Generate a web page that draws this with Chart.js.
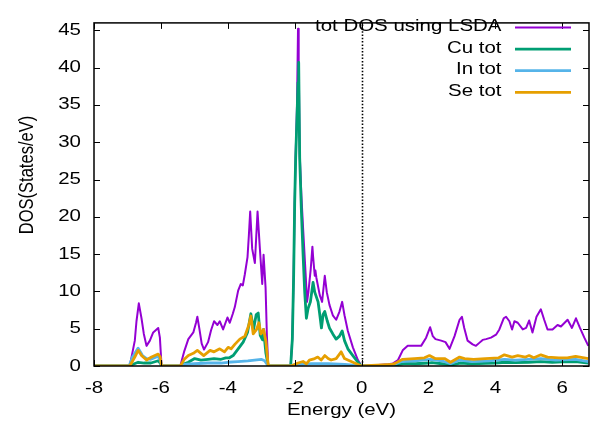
<!DOCTYPE html>
<html><head><meta charset="utf-8">
<script src="https://cdn.jsdelivr.net/npm/chart.js@4/dist/chart.umd.min.js"></script>
<style>html,body{margin:0;padding:0;background:#fff;overflow:hidden}</style>
</head><body>
<canvas id="c" width="594" height="432"></canvas>
<script>
// ---- data ----
const xTicks = [-8, -6, -4, -2, 0, 2, 4, 6];
const yTicks = [0, 5, 10, 15, 20, 25, 30, 35, 40, 45];
const seriesLabels = ['tot DOS using LSDA', 'Cu tot', 'In tot', 'Se tot'];
const xTitle = 'Energy (eV)';
const yTitle = 'DOS(States/eV)';

const totE = [-8, -6.93, -6.78, -6.73, -6.66, -6.58, -6.51, -6.43, -6.33, -6.23, -6.08, -6.03, -5.98, -5.42, -5.3, -5.18, -5.03, -4.95, -4.91, -4.85, -4.78, -4.71, -4.59, -4.5, -4.41, -4.31, -4.24, -4.14, -4.01, -3.94, -3.85, -3.79, -3.69, -3.61, -3.55, -3.49, -3.41, -3.37, -3.33, -3.27, -3.19, -3.11, -3.04, -2.97, -2.93, -2.87, -2.83, -2.79, -2.12, -2.07, -2.03, -2.0, -1.97, -1.93, -1.9, -1.88, -1.85, -1.8, -1.75, -1.67, -1.63, -1.59, -1.52, -1.47, -1.45, -1.4, -1.38, -1.35, -1.25, -1.18, -1.1, -1.04, -0.96, -0.86, -0.76, -0.66, -0.58, -0.51, -0.41, -0.26, -0.11, 0, 0.3, 0.5, 0.8, 0.94, 1.09, 1.23, 1.38, 1.58, 1.78, 1.93, 2.05, 2.13, 2.21, 2.38, 2.51, 2.63, 2.78, 2.93, 3.0, 3.07, 3.17, 3.32, 3.42, 3.52, 3.62, 3.72, 3.87, 4.02, 4.12, 4.25, 4.32, 4.42, 4.5, 4.57, 4.67, 4.82, 4.92, 5.01, 5.11, 5.23, 5.36, 5.46, 5.56, 5.71, 5.86, 5.96, 6.16, 6.29, 6.41, 6.53, 6.66, 6.78];
const totV = [0, 0, 3.4, 6.0, 8.4, 6.4, 4.3, 2.7, 3.4, 4.5, 5.1, 3.8, 0, 0, 2.0, 3.6, 4.5, 5.8, 6.6, 5.0, 3.0, 2.2, 3.2, 4.8, 6.0, 5.5, 6.0, 4.9, 6.5, 5.8, 7.0, 7.9, 10.1, 11.0, 10.8, 12.3, 14.6, 17.5, 20.7, 15.7, 13.8, 20.7, 15.7, 11.0, 14.9, 10.5, 4.0, 0, 0, 3.8, 12.5, 22.0, 28.5, 35.0, 45.2, 41.0, 28.5, 22.9, 18.6, 12.1, 8.6, 9.9, 13.0, 16.0, 14.7, 12.1, 12.8, 11.8, 9.5, 8.6, 12.1, 9.9, 8.2, 6.8, 6.2, 7.3, 8.6, 6.8, 4.7, 2.5, 0.8, 0, 0.05, 0.15, 0.25, 0.35, 0.8, 2.1, 2.7, 2.7, 2.7, 3.8, 5.2, 4.0, 3.6, 3.4, 3.2, 2.3, 4.0, 6.2, 6.6, 5.1, 3.4, 2.9, 2.7, 3.1, 3.5, 3.6, 3.8, 4.2, 4.9, 6.4, 6.6, 6.0, 4.9, 6.0, 5.8, 4.9, 5.1, 6.1, 4.5, 6.6, 7.6, 6.2, 4.9, 4.9, 5.5, 5.3, 6.2, 5.1, 6.4, 5.1, 3.8, 2.7];

const cuE = [-8, -6.95, -6.85, -6.68, -6.5, -6.3, -6.08, -6.02, -5.98, -5.42, -5.3, -5.18, -4.99, -4.8, -4.59, -4.41, -4.2, -4.06, -3.95, -3.84, -3.69, -3.54, -3.41, -3.31, -3.23, -3.15, -3.09, -3.03, -2.96, -2.93, -2.86, -2.79, -2.12, -2.07, -2.03, -2.0, -1.97, -1.93, -1.9, -1.88, -1.85, -1.8, -1.75, -1.7, -1.65, -1.6, -1.53, -1.45, -1.4, -1.3, -1.25, -1.2, -1.15, -1.1, -1.03, -0.96, -0.86, -0.76, -0.66, -0.58, -0.51, -0.41, -0.26, -0.11, 0, 0.9, 1.1, 1.3, 1.6, 2.0, 2.1, 2.4, 2.7, 2.95, 3.3, 3.7, 4.0, 4.3, 4.6, 5.0, 5.35, 5.7, 6.0, 6.4, 6.78];
const cuV = [0, 0, 0.2, 0.5, 0.4, 0.4, 0.7, 0.4, 0, 0, 0.3, 0.5, 1.0, 0.8, 0.9, 1.0, 0.9, 1.1, 1.1, 1.4, 2.3, 3.2, 4.5, 7.0, 4.9, 6.9, 7.1, 4.1, 3.5, 4.9, 1.7, 0, 0, 3.6, 12.3, 21.8, 27.9, 33.5, 38.0, 40.7, 27.9, 20.9, 15.1, 9.9, 6.4, 7.7, 8.6, 11.2, 9.9, 8.6, 6.9, 5.1, 6.9, 7.3, 6.1, 5.1, 4.3, 3.6, 4.0, 4.7, 3.4, 2.3, 1.4, 0.5, 0, 0.05, 0.2, 0.35, 0.3, 0.4, 0.45, 0.3, 0.15, 0.4, 0.3, 0.35, 0.4, 0.5, 0.45, 0.5, 0.6, 0.5, 0.55, 0.6, 0.4];

const inE = [-8, -6.95, -6.85, -6.68, -6.55, -6.43, -6.3, -6.08, -6.02, -5.98, -5.42, -5.3, -5.0, -4.6, -4.2, -4.0, -3.7, -3.4, -3.2, -3.0, -2.9, -2.79, -2.12, -2.0, -1.5, -1.0, -0.5, 0, 0.9, 1.2, 1.6, 2.05, 2.4, 2.66, 2.93, 3.3, 3.8, 4.27, 4.6, 5.0, 5.36, 5.8, 6.4, 6.78];
const inV = [0, 0, 1.2, 2.4, 1.4, 1.0, 0.9, 1.3, 0.8, 0, 0, 0.2, 0.3, 0.4, 0.4, 0.5, 0.6, 0.7, 0.8, 0.9, 0.7, 0, 0, 0.2, 0.3, 0.3, 0.2, 0, 0.1, 0.6, 0.7, 0.9, 0.7, 0.3, 0.8, 0.6, 0.7, 0.9, 0.8, 0.9, 1.0, 0.8, 0.9, 0.6];

const seE = [-8, -6.93, -6.78, -6.68, -6.58, -6.43, -6.28, -6.08, -6.02, -5.98, -5.42, -5.3, -5.18, -5.03, -4.91, -4.72, -4.53, -4.41, -4.24, -4.1, -3.99, -3.9, -3.79, -3.64, -3.49, -3.37, -3.31, -3.24, -3.14, -3.07, -3.01, -2.93, -2.86, -2.79, -2.12, -2.0, -1.9, -1.75, -1.65, -1.56, -1.4, -1.31, -1.21, -1.1, -1.0, -0.91, -0.76, -0.61, -0.51, -0.36, -0.21, 0, 0.9, 1.0, 1.23, 1.58, 1.88, 2.03, 2.2, 2.48, 2.66, 2.93, 3.08, 3.35, 3.7, 4.1, 4.27, 4.5, 4.67, 4.9, 5.01, 5.15, 5.36, 5.56, 5.9, 6.15, 6.4, 6.78];
const seV = [0, 0, 1.2, 2.1, 1.4, 0.8, 1.2, 1.6, 1.2, 0, 0, 0.9, 1.4, 1.7, 2.1, 1.4, 2.1, 1.9, 2.3, 1.9, 2.5, 2.3, 2.9, 3.6, 4.0, 5.5, 6.7, 4.3, 4.9, 5.8, 4.3, 4.9, 3.3, 0, 0, 0.2, 0.4, 0.6, 0.3, 0.8, 1.0, 1.2, 0.8, 1.4, 1.0, 0.8, 1.0, 1.9, 1.0, 0.7, 0.4, 0, 0.2, 0.35, 0.9, 1.0, 1.1, 1.4, 1.0, 1.0, 0.5, 1.2, 1.0, 0.9, 1.0, 1.1, 1.5, 1.2, 1.4, 1.2, 1.4, 1.1, 1.5, 1.2, 1.1, 1.1, 1.3, 1.0];

const colors = ['#9400d3', '#009e73', '#56b4e9', '#e69f00'];
// ---------------------------------------------

// the reference text is stretched horizontally; reproduce that when drawing text
const SX = 1.24;
const origFill = CanvasRenderingContext2D.prototype.fillText;
CanvasRenderingContext2D.prototype.fillText = function (t, x, y) {
  const m = this.getTransform();
  this.save();
  this.translate(x, y);
  if (Math.abs(m.b) > 1e-6) this.scale(1, SX); else this.scale(SX, 1);
  origFill.call(this, t, 0, 0);
  this.restore();
};

const FONT = { family: "'Liberation Sans', Arial, sans-serif", size: 16.5 };
const FONTSTR = FONT.size + 'px ' + FONT.family;
const pts = (e, v) => e.map((x, i) => ({ x: x, y: v[i] }));

const framePlugin = {
  id: 'frame',
  beforeDatasetsDraw(chart) {
    const { ctx, chartArea: a, scales: { x } } = chart;
    const px = Math.round(x.getPixelForValue(0)) + 0.5;
    ctx.save();
    ctx.strokeStyle = '#000';
    ctx.lineWidth = 1.6;
    ctx.setLineDash([1.5, 1.8]);
    ctx.beginPath();
    ctx.moveTo(px, a.bottom);
    ctx.lineTo(px, a.top);
    ctx.stroke();
    ctx.restore();
  },
  afterDatasetsDraw(chart) {
    const { ctx, chartArea: a, scales: { x, y } } = chart;
    const L = 6;
    ctx.save();
    ctx.strokeStyle = '#000';
    ctx.lineWidth = 1;
    ctx.beginPath();
    xTicks.forEach(v => {
      const p = Math.round(x.getPixelForValue(v)) + 0.5;
      ctx.moveTo(p, a.bottom); ctx.lineTo(p, a.bottom - L);
      ctx.moveTo(p, a.top); ctx.lineTo(p, a.top + L);
    });
    yTicks.forEach(v => {
      const p = Math.round(y.getPixelForValue(v)) + 0.5;
      ctx.moveTo(a.left, p); ctx.lineTo(a.left + L, p);
      ctx.moveTo(a.right, p); ctx.lineTo(a.right - L, p);
    });
    ctx.stroke();
    ctx.lineWidth = 1.5;
    ctx.strokeRect(a.left, a.top, a.right - a.left, a.bottom - a.top);
    ctx.restore();
  },
  afterDraw(chart) {
    const { ctx } = chart;
    ctx.save();
    ctx.font = FONTSTR;
    ctx.fillStyle = '#000';
    // y axis title
    ctx.save();
    ctx.translate(27, 175);
    ctx.rotate(-Math.PI / 2);
    ctx.textAlign = 'center';
    ctx.textBaseline = 'middle';
    ctx.fillText(yTitle, 0, 0);
    ctx.restore();
    // key
    ctx.textAlign = 'right';
    ctx.textBaseline = 'middle';
    chart.data.datasets.forEach((ds, i) => {
      const yy = 27.5 + i * 21.6;
      ctx.fillStyle = '#000';
      ctx.fillText(ds.label, 501.5, yy - 1);
      ctx.strokeStyle = ds.borderColor;
      ctx.lineWidth = ds.borderWidth;
      ctx.beginPath();
      ctx.moveTo(515, yy);
      ctx.lineTo(571, yy);
      ctx.stroke();
    });
    ctx.restore();
  }
};

new Chart(document.getElementById('c'), {
  type: 'line',
  data: {
    datasets: [
      { label: seriesLabels[0], data: pts(totE, totV), borderColor: colors[0], borderWidth: 2, order: 4 },
      { label: seriesLabels[1], data: pts(cuE, cuV), borderColor: colors[1], borderWidth: 2.8, order: 3 },
      { label: seriesLabels[2], data: pts(inE, inV), borderColor: colors[2], borderWidth: 2.8, order: 2 },
      { label: seriesLabels[3], data: pts(seE, seV), borderColor: colors[3], borderWidth: 2.8, order: 1 }
    ]
  },
  options: {
    responsive: false,
    animation: false,
    elements: { point: { radius: 0 }, line: { tension: 0, borderJoinStyle: 'round' } },
    layout: { padding: { left: 0, top: 12, right: 5, bottom: 0 } },
    plugins: { legend: { display: false }, tooltip: { enabled: false } },
    scales: {
      x: {
        type: 'linear', min: -8, max: 6.8,
        afterBuildTicks: s => { s.ticks = xTicks.map(v => ({ value: v })); },
        afterFit: s => { s.height = 66; },
        grid: { display: false, drawTicks: false },
        border: { display: false },
        ticks: { padding: 13, color: '#000', font: FONT, autoSkip: false, maxRotation: 0, callback: v => String(v) },
        title: { display: true, text: xTitle, color: '#000', font: FONT, padding: { top: 0, bottom: 12 } }
      },
      y: {
        type: 'linear', min: 0, max: 46,
        afterBuildTicks: s => { s.ticks = yTicks.map(v => ({ value: v })); },
        afterFit: s => { s.width = 94; },
        grid: { display: false, drawTicks: false },
        border: { display: false },
        ticks: { padding: 13, color: '#000', font: FONT, autoSkip: false, callback: v => String(v) },
        title: { display: false }
      }
    }
  },
  plugins: [framePlugin]
});
</script>
</body></html>
